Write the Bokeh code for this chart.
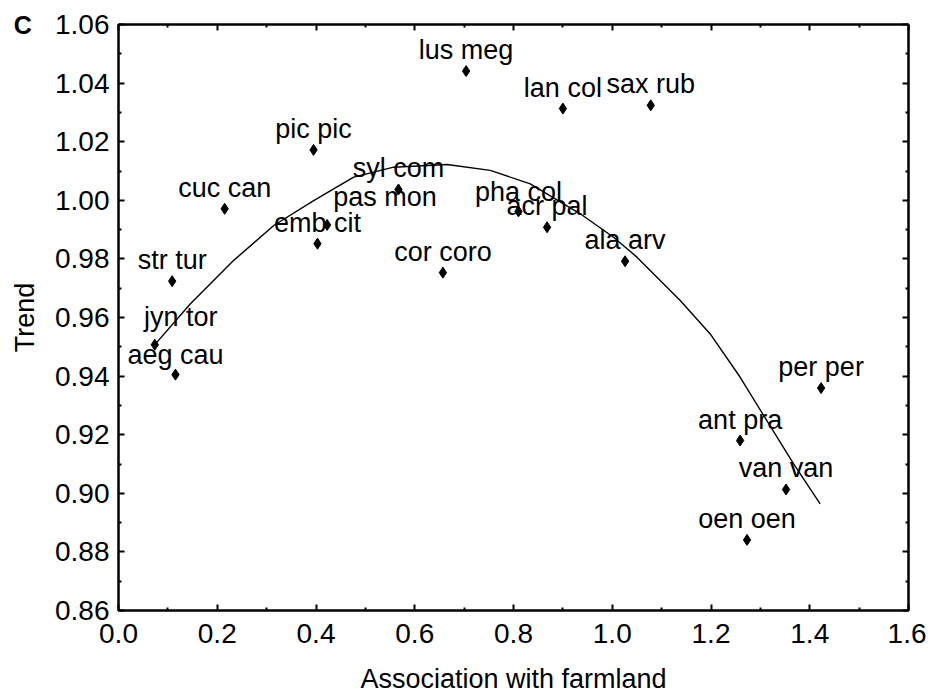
from bokeh.plotting import figure
from bokeh.models import (Range1d, LinearAxis, FixedTicker, NumeralTickFormatter,
                          CustomJSTickFormatter, ColumnDataSource, LabelSet, Label)
from bokeh.core.properties import value
from bokeh.embed import file_html
from bokeh.resources import INLINE

# ---- data ----
species = ["lus meg", "lan col", "sax rub", "pic pic", "syl com", "pas mon", "emb cit",
           "cuc can", "str tur", "jyn tor", "aeg cau", "cor coro", "pha col", "acr pal",
           "ala arv", "per per", "ant pra", "van van", "oen oen"]
farmland = [0.704, 0.900, 1.078, 0.395, 0.567, 0.4225, 0.403,
            0.215, 0.1087, 0.0735, 0.1154, 0.657, 0.810, 0.868,
            1.026, 1.423, 1.259, 1.352, 1.273]
trend = [1.0441, 1.0313, 1.0324, 1.0172, 1.0037, 0.9916, 0.9852,
         0.9971, 0.9724, 0.9507, 0.9405, 0.9753, 0.9962, 0.9908,
         0.9792, 0.9359, 0.9180, 0.9013, 0.8841]

fit_x = [0.0749, 0.1457, 0.2334, 0.3144, 0.3953, 0.4763, 0.5573, 0.6654, 0.7530,
         0.8340, 0.9352, 1.0026, 1.0500, 1.1377, 1.1984, 1.2591, 1.3131, 1.3670, 1.4211]
fit_y = [0.9510, 0.9647, 0.9795, 0.9914, 0.9999, 1.0079, 1.0113, 1.0122, 1.0102,
         1.0056, 0.9954, 0.9874, 0.9806, 0.9658, 0.9544, 0.9396, 0.9248, 0.9101, 0.8964]

x_ticks = [0.0, 0.2, 0.4, 0.6, 0.8, 1.0, 1.2, 1.4, 1.6]
x_minor = [0.1, 0.3, 0.5, 0.7, 0.9, 1.1, 1.3, 1.5]
y_ticks = [0.86, 0.88, 0.90, 0.92, 0.94, 0.96, 0.98, 1.00, 1.02, 1.04, 1.06]
y_minor = [0.87, 0.89, 0.91, 0.93, 0.95, 0.97, 0.99, 1.01, 1.03, 1.05]

# ---- label placement (screen px) ----
label_dx = {"pas mon": 58, "jyn tor": 26}
label_dy = {"pas mon": 19, "jyn tor": 19, "pha col": 10, "aeg cau": 11}
dx = [label_dx.get(s, 0) for s in species]
dy = [label_dy.get(s, 12) for s in species]

FONT = "Liberation Sans"

p = figure(width=926, height=696, output_backend="svg", toolbar_location=None,
           x_range=Range1d(0, 1.6), y_range=Range1d(0.86, 1.06),
           min_border_left=118, min_border_right=18, min_border_top=24, min_border_bottom=86)
p.xgrid.visible = False
p.ygrid.visible = False
p.outline_line_color = "black"
p.outline_line_width = 2
p.background_fill_color = "white"
p.border_fill_color = "white"

p.line(fit_x, fit_y, line_color="black", line_width=1.4)

src = ColumnDataSource(dict(x=farmland, y=trend, name=species, dx=dx, dy=dy))
p.scatter("x", "y", source=src, marker="diamond", size=11, color="black")
labels = LabelSet(x="x", y="y", text="name", source=src, x_offset="dx", y_offset="dy",
                  text_align="center", text_baseline="alphabetic",
                  text_font=value(FONT), text_font_size=value("27px"), text_color="black")
p.add_layout(labels)

def style_axis(ax, ticks, minor, fmt):
    ax.ticker = FixedTicker(ticks=ticks, minor_ticks=minor)
    ax.formatter = fmt
    ax.axis_line_color = "black"
    ax.axis_line_width = 2
    ax.major_tick_in = 6
    ax.major_tick_out = 0
    ax.minor_tick_in = 3
    ax.minor_tick_out = 0
    ax.major_tick_line_width = 2
    ax.minor_tick_line_width = 2
    ax.major_label_text_font = FONT
    ax.major_label_text_font_size = "28px"
    ax.major_label_text_color = "black"
    ax.axis_label_text_font = FONT
    ax.axis_label_text_font_size = "27px"
    ax.axis_label_text_font_style = "normal"
    ax.axis_label_text_color = "black"

xa = p.xaxis[0]
style_axis(xa, x_ticks, x_minor, NumeralTickFormatter(format="0.0"))
xa.axis_label = "Association with farmland"
xa.major_label_standoff = 13
xa.axis_label_standoff = 18

ya = p.yaxis[0]
style_axis(ya, y_ticks, y_minor, NumeralTickFormatter(format="0.00"))
ya.axis_label = "Trend"
ya.major_label_standoff = 9
ya.axis_label_standoff = 12

top = LinearAxis()
style_axis(top, x_ticks, x_minor, CustomJSTickFormatter(code="return ''"))
top.major_label_text_font_size = "1px"
top.major_label_standoff = 0
p.add_layout(top, "above")
right = LinearAxis()
style_axis(right, y_ticks, y_minor, CustomJSTickFormatter(code="return ''"))
right.major_label_text_font_size = "1px"
right.major_label_standoff = 0
p.add_layout(right, "right")

# panel letter: placed in a side panel so it is not clipped to the frame
p.add_layout(Label(x=-0.212, y=1.06, text="C", text_baseline="middle", text_align="left",
                   text_font=FONT, text_font_size="25px", text_font_style="bold",
                   text_color="black"), "right")

open("out.html", "w").write(file_html(p, INLINE))
